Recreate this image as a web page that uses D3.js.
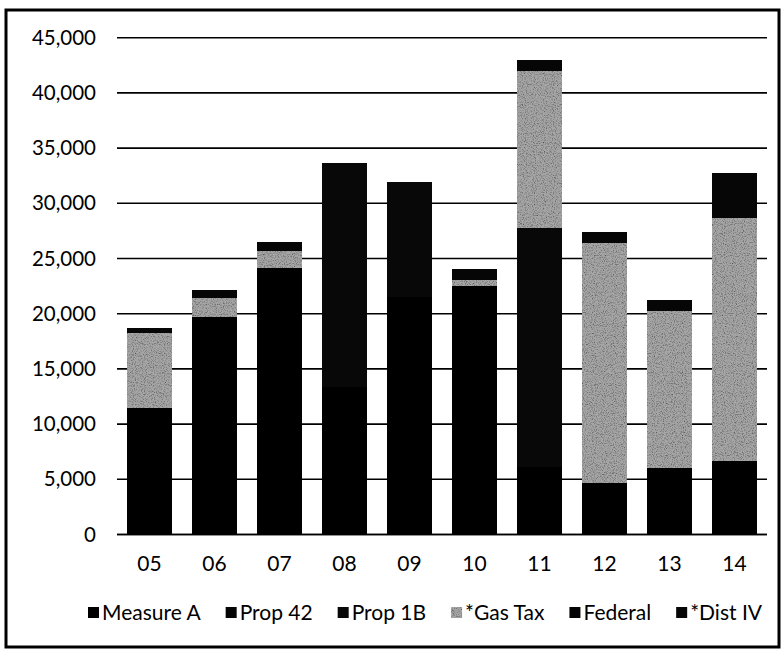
<!DOCTYPE html>
<html>
<head>
<meta charset="utf-8">
<script src="https://cdn.jsdelivr.net/npm/d3@7"></script>
<style>
  html, body { margin: 0; padding: 0; background: #fff; }
  svg { display: block; }
  text { font-family: Lato, "Open Sans", sans-serif; fill: #000; }
</style>
</head>
<body>
<svg id="chart" width="784" height="654"></svg>
<script>
// ---- data ----
const categories = ["05", "06", "07", "08", "09", "10", "11", "12", "13", "14"];
const seriesNames = ["Measure A", "Prop 42", "Prop 1B", "*Gas Tax", "Federal", "*Dist IV"];
const measureA = [11430, 19730, 24110, 13400, 21500, 22540, 6110, 4690, 6000, 6680];
const prop42   = [0, 0, 0, 0, 0, 0, 0, 0, 0, 0];
const prop1B   = [0, 0, 0, 20220, 10430, 0, 21630, 0, 0, 0];
const gasTax   = [6850, 1720, 1600, 0, 0, 510, 14270, 21740, 14240, 21960];
const federal  = [0, 0, 0, 0, 0, 0, 0, 0, 0, 0];
const distIV   = [400, 700, 760, 0, 0, 970, 970, 1000, 1000, 4130];
const yTicks = [0, 5000, 10000, 15000, 20000, 25000, 30000, 35000, 40000, 45000];
const seriesColors = ["#000000", "#050505", "#080808", "#a6a6a6", "#030303", "#060606"];

const seriesValues = [measureA, prop42, prop1B, gasTax, federal, distIV];
const rows = categories.map((c, i) => {
  const r = { cat: c };
  seriesNames.forEach((s, j) => r[s] = seriesValues[j][i]);
  return r;
});

const svg = d3.select("#chart");

// outer frame
svg.append("rect")
  .attr("x", 6).attr("y", 10).attr("width", 773).attr("height", 637)
  .attr("fill", "none").attr("stroke", "#000").attr("stroke-width", 3);

const x = d3.scaleBand().domain(categories).range([117, 767])
  .paddingInner(0.31).paddingOuter(0.155);
const y = d3.scaleLinear().domain([0, 45000]).range([534.5, 37.7]);

// gridlines
svg.append("g").selectAll("line").data(yTicks).join("line")
  .attr("x1", 117).attr("x2", 767)
  .attr("y1", d => y(d)).attr("y2", d => y(d))
  .attr("stroke", "#000").attr("stroke-width", 1.6);

// y axis labels
const yAxis = d3.axisLeft(y).tickValues(yTicks).tickSize(0).tickPadding(0)
  .tickFormat(d3.format(","));
svg.append("g").attr("transform", "translate(96,0)").call(yAxis)
  .call(g => g.select(".domain").remove())
  .call(g => g.selectAll("text").style("font-size", "20.5px")
    .style("font-family", "Lato, sans-serif").attr("fill", "#000"));

// defs: texture for gas tax
const defs = svg.append("defs");
const filt = defs.append("filter").attr("id", "grain")
  .attr("x", 0).attr("y", 0).attr("width", 1).attr("height", 1);
filt.append("feTurbulence").attr("type", "fractalNoise").attr("baseFrequency", 0.9)
  .attr("numOctaves", 2).attr("seed", 3).attr("result", "noise");
filt.append("feColorMatrix").attr("in", "noise").attr("type", "matrix")
  .attr("values", "0 0 0 0 0  0 0 0 0 0  0 0 0 0 0  0 0 0 -1.8 1.0").attr("result", "dots");
filt.append("feComposite").attr("in", "dots").attr("in2", "SourceGraphic").attr("operator", "in").attr("result", "d2");
filt.append("feMerge").call(m => { m.append("feMergeNode").attr("in", "SourceGraphic"); m.append("feMergeNode").attr("in", "d2"); });

// stacked bars
const stack = d3.stack().keys(seriesNames);
const stacked = stack(rows);
svg.append("g").attr("shape-rendering", "crispEdges")
  .selectAll("g").data(stacked).join("g")
  .attr("fill", (d, i) => seriesColors[i])
  .attr("filter", (d, i) => i === 3 ? "url(#grain)" : null)
  .selectAll("rect").data(d => d.filter(s => s[1] - s[0] > 0)).join("rect")
  .attr("x", d => x(d.data.cat))
  .attr("width", x.bandwidth())
  .attr("y", d => y(d[1]))
  .attr("height", d => y(d[0]) - y(d[1]));

// x axis baseline
svg.append("line").attr("x1", 117).attr("x2", 767)
  .attr("y1", y(0)).attr("y2", y(0)).attr("stroke", "#000").attr("stroke-width", 1.6);

// x axis labels
const xAxis = d3.axisBottom(x).tickSize(0).tickPadding(0);
svg.append("g").attr("transform", "translate(0,556)").call(xAxis)
  .call(g => g.select(".domain").remove())
  .call(g => g.selectAll("text").style("font-size", "21px")
    .style("font-family", "Lato, sans-serif").attr("fill", "#000"));

// legend: spread items between left and right limits
const legendLeft = 88, legendRight = 762, sw = 11, swGap = 3;
const legend = svg.append("g").attr("transform", "translate(0,613)");
const items = seriesNames.map((s, i) => {
  const g = legend.append("g");
  g.append("rect").attr("x", 0).attr("y", -6).attr("width", sw).attr("height", sw)
    .attr("fill", seriesColors[i]).attr("filter", i === 3 ? "url(#grain)" : null);
  const t = g.append("text").attr("x", sw + swGap).attr("y", 0).attr("dy", "0.35em")
    .style("font-size", "21px").text(s);
  return { g, w: sw + swGap + t.node().getComputedTextLength() };
});
const totalW = d3.sum(items, d => d.w);
const gap = (legendRight - legendLeft - totalW) / (items.length - 1);
let lx = legendLeft;
items.forEach(it => { it.g.attr("transform", `translate(${lx},0)`); lx += it.w + gap; });
</script>
</body>
</html>
